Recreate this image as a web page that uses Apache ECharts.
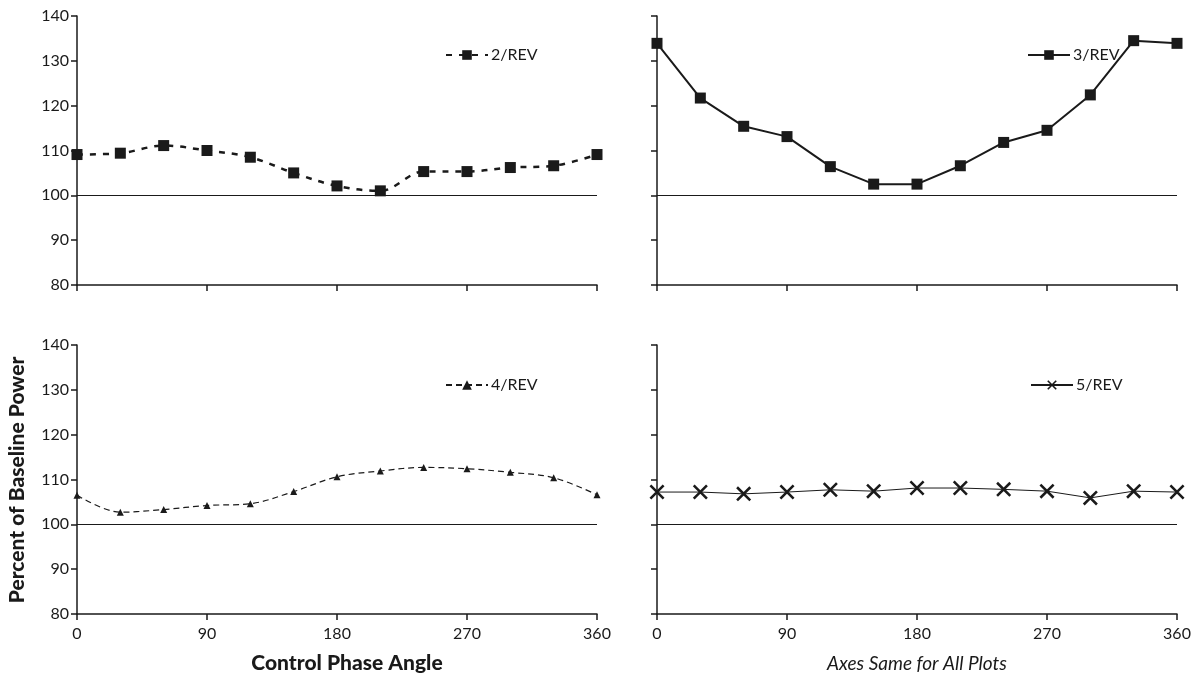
<!DOCTYPE html>
<html><head><meta charset="utf-8">
<script src="https://cdn.jsdelivr.net/npm/echarts@6/dist/echarts.min.js"></script>
<style>html,body{margin:0;padding:0;background:#fff}#c{width:1200px;height:681px}</style>
</head><body><div id="c"></div>
<script>
const angles = [0,30,60,90,120,150,180,210,240,270,300,330,360];
const xTicks = [0,90,180,270,360];
const yTicks = [80,90,100,110,120,130,140];
const rev2 = [109.1,109.4,111.1,110.0,108.5,105.0,102.1,101.0,105.3,105.3,106.2,106.6,109.1];
const rev3 = [133.9,121.7,115.4,113.1,106.4,102.5,102.5,106.6,111.8,114.5,122.4,134.5,133.9];
const rev4 = [106.5,102.7,103.3,104.2,104.6,107.3,110.6,111.9,112.7,112.4,111.6,110.4,106.6];
const rev5 = [107.2,107.2,106.8,107.2,107.7,107.4,108.1,108.1,107.8,107.4,105.9,107.4,107.2];
const seriesNames = ['2/REV','3/REV','4/REV','5/REV'];
const baseline = 100;
const xTitle = 'Control Phase Angle';
const xNote = 'Axes Same for All Plots';
const yTitle = 'Percent of Baseline Power';

const FONT = 'Lato';
const INK = '#1a1a1a';
const xSym = 'path://M0,1.2 L1.2,0 L10,8.8 L8.8,10 Z M8.8,0 L10,1.2 L1.2,10 L0,8.8 Z';

const grids = [
  {left:77, top:16, width:520, height:269},
  {left:657, top:16, width:520, height:269},
  {left:77, top:345, width:520, height:269},
  {left:657, top:345, width:520, height:269}
];
const pair = (arr) => angles.map((a,i)=>[a,arr[i]]);
const xAxes = grids.map((g,i)=>({
  type:'value', gridIndex:i, min:xTicks[0], max:xTicks[xTicks.length-1], interval:90,
  axisLine:{show:true, onZero:false, lineStyle:{color:INK,width:1.5}},
  axisTick:{show:true, length:6, lineStyle:{color:INK,width:1.5}},
  axisLabel:{show:i>=2, color:INK, fontFamily:FONT, fontSize:16, margin:12},
  splitLine:{show:false}
}));
const yAxes = grids.map((g,i)=>({
  type:'value', gridIndex:i, min:yTicks[0], max:yTicks[yTicks.length-1], interval:10,
  axisLine:{show:true, lineStyle:{color:INK,width:1.5}},
  axisTick:{show:true, length:6, lineStyle:{color:INK,width:1.5}},
  axisLabel:{show:i%2===0, color:INK, fontFamily:FONT, fontSize:16, margin:8},
  splitLine:{show:false}
}));
const ml = {silent:true, symbol:'none', label:{show:false},
  lineStyle:{color:INK, width:1.2, type:'solid'}, data:[{yAxis:baseline}]};

const series = [
  {name:seriesNames[0], type:'line', xAxisIndex:0, yAxisIndex:0, data:pair(rev2), smooth:0.35,
   symbol:'rect', symbolSize:11, itemStyle:{color:INK},
   lineStyle:{color:INK, width:2.5, type:[6,7]}, markLine:ml},
  {name:seriesNames[1], type:'line', xAxisIndex:1, yAxisIndex:1, data:pair(rev3), smooth:false,
   symbol:'rect', symbolSize:11, itemStyle:{color:INK},
   lineStyle:{color:INK, width:2}, markLine:ml},
  {name:seriesNames[2], type:'line', xAxisIndex:2, yAxisIndex:2, data:pair(rev4), smooth:0.35,
   symbol:'triangle', symbolSize:7, itemStyle:{color:INK},
   lineStyle:{color:INK, width:1.2, type:[6,4]}, markLine:ml},
  {name:seriesNames[3], type:'line', xAxisIndex:3, yAxisIndex:3, data:pair(rev5), smooth:false,
   symbol:xSym, symbolSize:15, itemStyle:{color:INK},
   lineStyle:{color:INK, width:1}, markLine:ml}
];
const legendPos = [[440,42],[1022,42],[440,372],[1025,372]];
const legends = seriesNames.map((n,i)=>({
  data:[n], left:legendPos[i][0], top:legendPos[i][1], itemWidth:42, itemHeight:12, itemGap:0,
  textStyle:{color:INK, fontFamily:FONT, fontSize:16, padding:[0,0,0,-2]}, selectedMode:false
}));

const chart = echarts.init(document.getElementById('c'), null, {renderer:'canvas'});
chart.setOption({
  animation:false,
  backgroundColor:'#fff',
  grid:grids,
  xAxis:xAxes, yAxis:yAxes,
  legend:legends,
  series:series,
  graphic:[
    {type:'text', x:347, y:663, style:{text:xTitle, font:'900 21px '+FONT, fill:INK, textAlign:'center', textVerticalAlign:'middle'}},
    {type:'text', x:917, y:664, style:{text:xNote, font:'italic 19px '+FONT, fill:INK, textAlign:'center', textVerticalAlign:'middle'}},
    {type:'text', x:17, y:480, rotation:Math.PI/2, style:{text:yTitle, font:'900 21px '+FONT, fill:INK, textAlign:'center', textVerticalAlign:'middle'}}
  ]
});
</script></body></html>
